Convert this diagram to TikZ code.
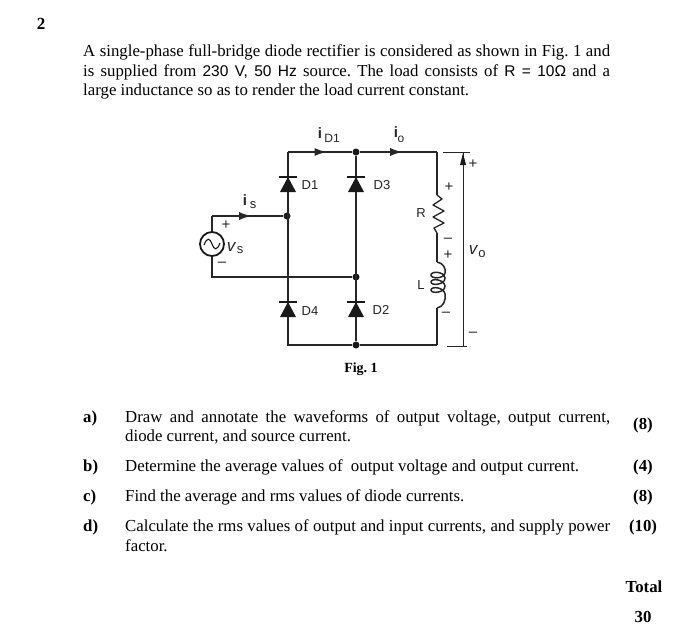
\documentclass[tikz,border=0pt]{standalone}
\usepackage{fontspec}
\setmainfont{Liberation Serif}
\newfontfamily\arialf{Liberation Sans}
\usetikzlibrary{decorations.markings,arrows.meta}
\tikzset{
  wire/.style={line width=1.3pt,draw=black!85},
  dotj/.style={circle,fill=black!90,inner sep=0pt,minimum size=7pt},
  body/.style={anchor=base west,inner sep=0pt,font=\fontsize{16.8}{20}\selectfont},
  bodyb/.style={anchor=base,inner sep=0pt,font=\fontsize{16.8}{20}\selectfont\bfseries},
  lab/.style={inner sep=0pt,font=\arialf\fontsize{13}{14}\selectfont,text=black!85},
  sgn/.style={inner sep=0pt,font=\arialf\fontsize{15}{15}\selectfont,text=black!85},
  midarrow/.style={postaction={decorate},decoration={markings,mark=at position #1 with {\arrow{Latex[length=12pt,width=8pt]}}}},
  diodep/.pic={
    \fill[black!90] (0,0) -- (8,15) -- (-8,15) -- cycle;
    \draw[line width=1.4pt,black!90] (-9,0) -- (9,0);
  }
}
\begin{document}
\frenchspacing
\begin{tikzpicture}[x=1pt,y=-1pt]
\useasboundingbox (0,0) rectangle (700,633);
\fill[white] (0,0) rectangle (700,633);
% text
\node[anchor=base,inner sep=0pt,font=\fontsize{17}{20}\selectfont\bfseries] (qn) at (41,29) {2};
\node[body] (t1) at (83,56) {\makebox[527pt][s]{A single-phase full-bridge diode rectifier is considered as shown in Fig. 1 and}};
\node[body] (t2) at (83,76) {\makebox[527pt][s]{is supplied from {\arialf\fontsize{15.5}{20}\selectfont 230 V, 50 Hz} source. The load consists of {\arialf\fontsize{15.5}{20}\selectfont R = 10Ω} and a}};
\node[body] (t3) at (83,95) {large inductance so as to render the load current constant.};
\node[anchor=base,inner sep=0pt,font=\fontsize{14}{16}\selectfont\bfseries] (fig) at (361,372) {Fig. 1};
\node[bodyb,anchor=base west] (la) at (83,422) {a)};
\node[body] (a1) at (125,422) {\makebox[485pt][s]{Draw and annotate the waveforms of output voltage, output current,}};
\node[body] (a2) at (125,441) {diode current, and source current.};
\node[bodyb,anchor=base west] (lb) at (83,471) {b)};
\node[body] (b1) at (125,471) {Determine the average values of\ \ output voltage and output current.};
\node[bodyb,anchor=base west] (lc) at (83,501) {c)};
\node[body] (c1) at (125,501) {Find the average and rms values of diode currents.};
\node[bodyb,anchor=base west] (ld) at (83,531) {d)};
\node[body] (d1) at (125,531) {\makebox[485pt][s]{Calculate the rms values of output and input currents, and supply power}};
\node[body] (d2) at (125,551) {factor.};
\node[bodyb] (m1) at (643,429) {(8)};
\node[bodyb] (m2) at (643,471) {(4)};
\node[bodyb] (m3) at (643,501) {(8)};
\node[bodyb] (m4) at (643,531) {(10)};
\node[bodyb] (tot) at (644,592) {Total};
\node[bodyb] (tv) at (643,622) {30};
% junctions
\coordinate (tl) at (288,152);
\coordinate (bl) at (288,345);
\coordinate (tr) at (437,152);
\coordinate (br) at (437,345);
\coordinate (st) at (212,216);
\coordinate (sb) at (212,277);
\coordinate (rt) at (437,195);
\coordinate (rb) at (437,233);
\coordinate (lt) at (437,262);
\coordinate (lb2) at (437,308);
\node[dotj] (jt) at (356,152) {};
\node[dotj] (jm) at (356,277) {};
\node[dotj] (jb) at (356,345) {};
\node[dotj] (js) at (287,216) {};
\node[circle,draw=black!90,line width=1.8pt,minimum size=24pt,inner sep=0pt] (vs) at (212,244) {};
% wires
\draw[wire,midarrow=0.6] (tl) -- (jt);
\draw[wire,midarrow=0.55] (jt) -- (tr);
\draw[wire] (tl) -- (bl) -- (jb) -- (br);
\draw[wire] (jt) -- (jb);
\draw[wire] (vs.north) -- (st);
\draw[wire,midarrow=0.55] (st) -- (js);
\draw[wire] (vs.south) -- (sb) -- (jm);
\draw[wire] (tr) -- (rt);
\draw[wire] (rb) -- (lt);
\draw[wire] (lb2) -- (br);
% resistor
\draw[wire,line join=round] (rt) -- (442,199) -- (433,205) -- (444,211) -- (433,217) -- (444,223) -- (434,228) -- (rb);
% inductor
\draw[wire,line width=1.5pt] (lt) .. controls (443,263) and (446,268) .. (445,273)
  .. controls (444,279) and (431,279) .. (431,275) .. controls (431,271) and (444,271) .. (445,278)
  .. controls (445,285) and (431,286) .. (431,282) .. controls (431,278) and (444,279) .. (445,286)
  .. controls (445,293) and (431,294) .. (431,290) .. controls (431,286) and (444,287) .. (445,294)
  .. controls (446,301) and (443,307) .. (lb2);
% source symbol
\draw[line width=1.1pt,black!90] (204,245) .. controls (207,237) and (210,238) .. (212,244) .. controls (214,250) and (217,251) .. (220,243);
% diodes
\pic at (288,177) {diodep};
\pic at (356,177) {diodep};
\pic at (288,302) {diodep};
\pic at (356,302) {diodep};
% vo bracket
\coordinate (vt) at (463,152);
\coordinate (vb) at (463,346);
\coordinate (vtl) at (443,152);
\coordinate (vtr) at (470,152);
\coordinate (vbl) at (447,346);
\coordinate (vbr) at (467,346);
\draw[line width=1pt,black!85] (vtl) -- (vtr);
\draw[line width=1pt,black!85] (vbl) -- (vbr);
\draw[line width=1pt,black!85] (vb) -- (vt);
\fill[black!90] (463,153) -- (466,165) -- (460,165) -- cycle;
% labels
\node[lab,font=\arialf\bfseries\fontsize{15}{16}\selectfont] (iD) at (320,133) {i};
\node[lab,font=\arialf\fontsize{12}{12}\selectfont] (iDs) at (332,138) {D1};
\node[lab,font=\arialf\bfseries\fontsize{15}{16}\selectfont] (io) at (396,132) {i};
\node[lab,font=\arialf\fontsize{12}{12}\selectfont] (ios) at (401,139) {o};
\node[lab,font=\arialf\bfseries\fontsize{15}{16}\selectfont] (is) at (245,200) {i};
\node[lab,font=\arialf\fontsize{13}{13}\selectfont] (iss) at (253,205) {s};
\node[lab,font=\arialf\itshape\fontsize{17}{17}\selectfont] (vv) at (231,247) {v};
\node[lab,font=\arialf\fontsize{13}{13}\selectfont] (vss) at (240,250) {s};
\node[lab] (d1l) at (310,185) {D1};
\node[lab] (d3l) at (382,185) {D3};
\node[lab] (d4l) at (310,311) {D4};
\node[lab] (d2l) at (381,310) {D2};
\node[lab] (rl) at (421,213) {R};
\node[lab] (ll) at (421,285) {L};
\node[lab,font=\arialf\itshape\fontsize{17}{17}\selectfont] (vo) at (473,250) {v};
\node[lab,font=\arialf\fontsize{13}{13}\selectfont] (vos) at (482,254) {o};
\node[sgn] (p1) at (226,225) {+};
\node[sgn] (m1s) at (222,264) {–};
\node[sgn] (p2) at (449,187) {+};
\node[sgn] (m2s) at (448,240) {–};
\node[sgn] (p3) at (448,255) {+};
\node[sgn] (m3s) at (446,314) {–};
\node[sgn] (p4) at (473,164) {+};
\node[sgn] (m4s) at (473,334) {–};
\end{tikzpicture}
\end{document}
